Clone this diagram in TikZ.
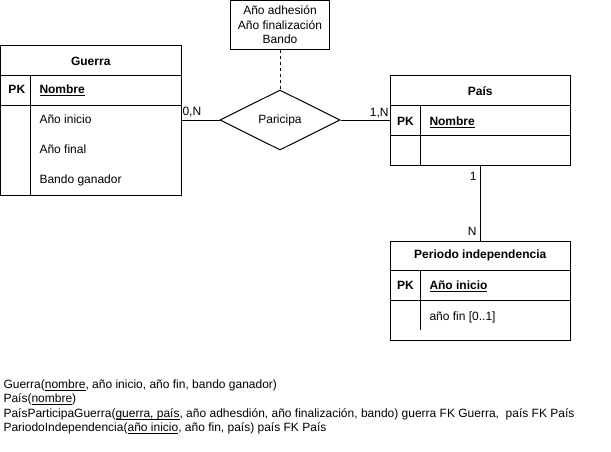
\documentclass[tikz,border=0pt]{standalone}
\usepackage{fontspec}
\setmainfont{Liberation Sans}
\usetikzlibrary{shapes.geometric}
\newcommand\myul[1]{\setbox0\hbox{#1}\rlap{\rule[-2.4pt]{\wd0}{0.9pt}}\box0}
\begin{document}
\begin{tikzpicture}[x=1pt,y=-1pt,line width=1pt,
  txt/.style={inner sep=0pt,font=\fontsize{12}{14.4}\selectfont},
  bold/.style={inner sep=0pt,font=\fontsize{12}{14.4}\selectfont\bfseries},
  tbl/.style={draw,inner sep=0pt},
  rel/.style={draw,diamond,aspect=2,inner sep=0pt,minimum width=120pt,minimum height=60pt,font=\fontsize{12}{14.4}\selectfont}]
\useasboundingbox (0,0) rectangle (611,451);

% Guerra
\node[tbl,minimum width=180.5pt,minimum height=150pt] (guerra) at (90.75,120) {};
\draw (0.5,75) -- (181,75);
\draw (0.5,105) -- (181,105);
\draw (30.5,75) -- (30.5,195);
\node[bold,anchor=base] (gt) at (90.75,65) {Guerra};
\node[bold,anchor=base west] (gpk) at (8,93.3) {PK};
\node[bold,anchor=base west] (gn) at (39,93.3) {\myul{Nombre}};
\node[txt,anchor=base west] (g1) at (39,123.3) {Año inicio};
\node[txt,anchor=base west] (g2) at (39,153.3) {Año final};
\node[txt,anchor=base west] (g3) at (39,183.3) {Bando ganador};

% relationship
\node[rel] (dia) at (280,120) {Paricipa};
\node[txt,draw,minimum width=99pt,minimum height=49pt,align=center] (attr) at (280,25) {Año adhesión\\Año finalización\\Bando};
\draw[dash pattern=on 3pt off 3pt] (attr.south) -- (dia.north);

% País
\node[tbl,minimum width=180.5pt,minimum height=90pt] (pais) at (480.25,120) {};
\draw (390,105) -- (570.5,105);
\draw (390,135) -- (570.5,135);
\draw (420.5,105) -- (420.5,165);
\node[bold,anchor=base] (pt) at (480.25,95) {País};
\node[bold,anchor=base west] (ppk) at (396.5,125) {PK};
\node[bold,anchor=base west] (pn) at (429,125) {\myul{Nombre}};

% Periodo
\node[tbl,minimum width=180.5pt,minimum height=98.5pt] (per) at (480.25,290.75) {};
\draw (390,270) -- (570.5,270);
\draw (390,300) -- (570.5,300);
\draw (420.5,270) -- (420.5,330);
\node[bold,anchor=base] (prt) at (480.25,258.3) {Periodo independencia};
\node[bold,anchor=base west] (prpk) at (396.5,289.3) {PK};
\node[bold,anchor=base west] (prn) at (429,289.3) {\myul{Año inicio}};
\node[txt,anchor=base west] (prf) at (429,320) {año fin [0..1]};

% connectors
\draw (guerra.east) -- (dia.west);
\draw (dia.east) -- (pais.west);
\draw (pais.south) -- (per.north);
\node[txt,anchor=base west] (l0n) at (182,115.5) {0,N};
\node[txt,anchor=base east] (l1n) at (389,116.5) {1,N};
\node[txt,anchor=base east] (l1) at (477,180) {1};
\node[txt,anchor=base east] (lN) at (477,235) {N};

% schema text
\node[txt,anchor=base west] (r1) at (3,388) {Guerra(\myul{nombre}, año inicio, año fin, bando ganador)};
\node[txt,anchor=base west] (r2) at (3,402.5) {País(\myul{nombre})};
\node[txt,anchor=base west] (r3) at (3,417) {PaísParticipaGuerra(\myul{guerra, país}, año adhesdión, año finalización, bando) guerra FK Guerra,\ \ país FK País};
\node[txt,anchor=base west] (r4) at (3,431.5) {PariodoIndependencia(\myul{año inicio}, año fin, país) país FK País};
\end{tikzpicture}
\end{document}
